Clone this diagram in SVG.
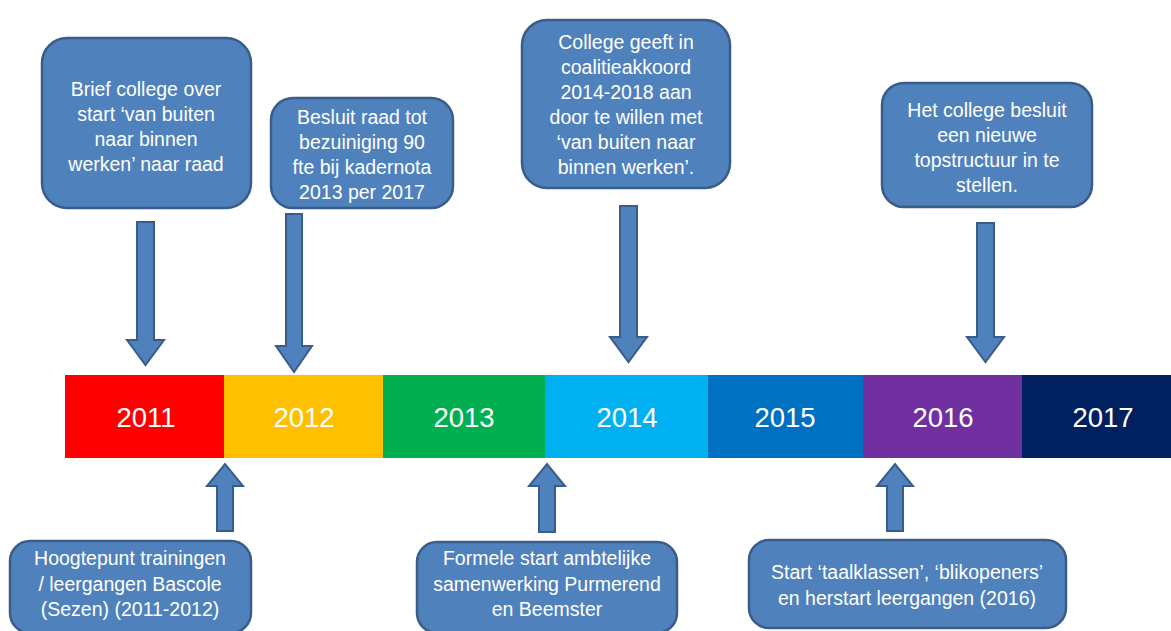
<svg xmlns="http://www.w3.org/2000/svg" width="1171" height="631" viewBox="0 0 1171 631">
<style>
.box{fill:#4F81BD;stroke:#385D8A;stroke-width:2.5}
.arr{fill:#4F81BD;stroke:#385D8A;stroke-width:2}
.t{font-family:"Liberation Sans",Arial,sans-serif;font-size:19.5px;fill:#FFFFFF;text-anchor:middle}
.y{font-family:"Liberation Sans",Arial,sans-serif;font-size:27.5px;fill:#FFFFFF;text-anchor:middle}
</style>
<rect x="0" y="0" width="1171" height="631" fill="#FFFFFF"/>
<g id="timeline">
<rect x="65" y="375" width="159" height="83" fill="#FF0000"/>
<rect x="224" y="375" width="159" height="83" fill="#FFC000"/>
<rect x="383" y="375" width="162" height="83" fill="#00B050"/>
<rect x="545" y="375" width="163" height="83" fill="#00B0F0"/>
<rect x="708" y="375" width="155" height="83" fill="#0070C0"/>
<rect x="863" y="375" width="159" height="83" fill="#7030A0"/>
<rect x="1022" y="375" width="149" height="83" fill="#002060"/>
<text class="y" x="146" y="427">2011</text>
<text class="y" x="304" y="427">2012</text>
<text class="y" x="464" y="427">2013</text>
<text class="y" x="627" y="427">2014</text>
<text class="y" x="785" y="427">2015</text>
<text class="y" x="943" y="427">2016</text>
<text class="y" x="1103" y="427">2017</text>
</g>
<g id="connectors">
<path class="arr" d="M137,222 H154 V340 H164 L145.5,365 L127,340 H137 Z"/>
<path class="arr" d="M286,214 H302 V346 H312 L294,372 L276,346 H286 Z"/>
<path class="arr" d="M620,206 H637 V337 H647 L628.5,362 L610,337 H620 Z"/>
<path class="arr" d="M977,223 H994 V337 H1004 L985.5,362 L967,337 H977 Z"/>
<path class="arr" d="M217,531 V486 H207 L225,464 L243,486 H233 V531 Z"/>
<path class="arr" d="M539,532 V486 H529 L547,464 L565,486 H555 V532 Z"/>
<path class="arr" d="M887,531 V486 H877 L895,464 L913,486 H903 V531 Z"/>
</g>
<g id="n1">
<rect class="box" x="42" y="38" width="209" height="170" rx="25"/>
<text class="t" x="146" y="96">Brief college over</text>
<text class="t" x="146" y="121">start ‘van buiten</text>
<text class="t" x="146" y="146">naar binnen</text>
<text class="t" x="146" y="171">werken’ naar raad</text>
</g>
<g id="n2">
<rect class="box" x="271" y="98" width="182" height="110" rx="22"/>
<text class="t" x="362" y="124">Besluit raad tot</text>
<text class="t" x="362" y="149">bezuiniging 90</text>
<text class="t" x="362" y="174">fte bij kadernota</text>
<text class="t" x="362" y="199">2013  per 2017</text>
</g>
<g id="n3">
<rect class="box" x="522" y="20" width="208" height="168" rx="25"/>
<text class="t" x="626" y="49">College geeft in</text>
<text class="t" x="626" y="74">coalitieakkoord</text>
<text class="t" x="626" y="99">2014-2018  aan</text>
<text class="t" x="626" y="124">door te willen met</text>
<text class="t" x="626" y="149">‘van buiten naar</text>
<text class="t" x="626" y="174">binnen werken’.</text>
</g>
<g id="n4">
<rect class="box" x="882" y="83" width="210" height="124" rx="22"/>
<text class="t" x="987" y="117">Het college besluit</text>
<text class="t" x="987" y="142">een nieuwe</text>
<text class="t" x="987" y="167">topstructuur in te</text>
<text class="t" x="987" y="192">stellen.</text>
</g>
<g id="n5">
<rect class="box" x="10" y="541" width="241" height="92" rx="20"/>
<text class="t" x="130" y="565">Hoogtepunt trainingen</text>
<text class="t" x="130" y="591">/ leergangen Bascole</text>
<text class="t" x="130" y="616">(Sezen) (2011-2012)</text>
</g>
<g id="n6">
<rect class="box" x="417" y="542" width="260" height="91" rx="20"/>
<text class="t" x="547" y="565">Formele start ambtelijke</text>
<text class="t" x="547" y="591">samenwerking Purmerend</text>
<text class="t" x="547" y="616">en Beemster</text>
</g>
<g id="n7">
<rect class="box" x="749" y="540" width="317" height="88" rx="20"/>
<text class="t" x="907" y="579">Start ‘taalklassen’, ‘blikopeners’</text>
<text class="t" x="907" y="605">en herstart leergangen (2016)</text>
</g>
</svg>
